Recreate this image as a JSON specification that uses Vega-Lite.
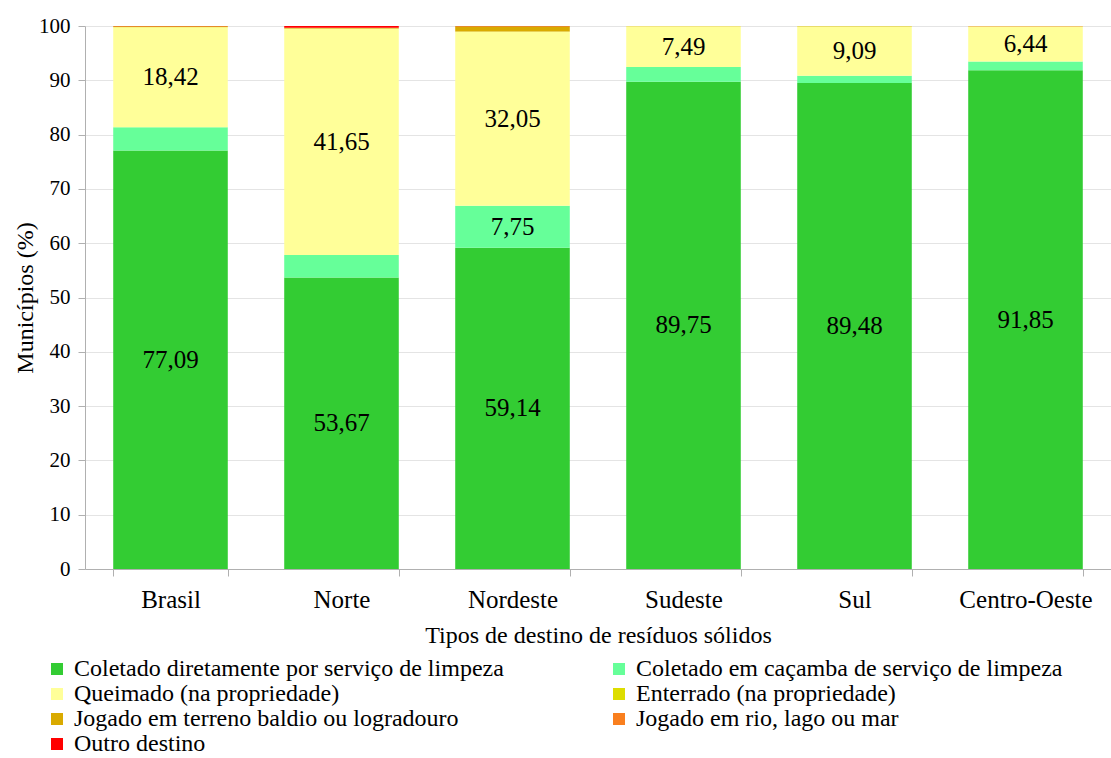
{
  "$schema": "https://vega.github.io/schema/vega-lite/v6.json",
  "width": 1026,
  "height": 543,
  "autosize": {"type": "none"},
  "padding": {"left": 85, "top": 26, "right": 0, "bottom": 189},
  "background": "white",
  "config": {
    "font": "Liberation Serif",
    "axis": {"labelFont": "Liberation Serif", "titleFont": "Liberation Serif"},
    "legend": {"labelFont": "Liberation Serif", "titleFont": "Liberation Serif"},
    "text": {"font": "Liberation Serif"},
    "view": {"stroke": null},
    "locale": {"number": {"decimal": ",", "thousands": ".", "grouping": [3], "currency": ["R$", ""]}}
  },
  "data": {
    "values": [
      {"regiao": "Brasil", "destino": "Coletado diretamente por serviço de limpeza", "k": 1, "valor": 77.09},
      {"regiao": "Brasil", "destino": "Coletado em caçamba de serviço de limpeza", "k": 2, "valor": 4.25},
      {"regiao": "Brasil", "destino": "Queimado (na propriedade)", "k": 3, "valor": 18.42},
      {"regiao": "Brasil", "destino": "Enterrado (na propriedade)", "k": 4, "valor": 0.05},
      {"regiao": "Brasil", "destino": "Jogado em terreno baldio ou logradouro", "k": 5, "valor": 0.14},
      {"regiao": "Brasil", "destino": "Jogado em rio, lago ou mar", "k": 6, "valor": 0.02},
      {"regiao": "Brasil", "destino": "Outro destino", "k": 7, "valor": 0.03},
      {"regiao": "Norte", "destino": "Coletado diretamente por serviço de limpeza", "k": 1, "valor": 53.67},
      {"regiao": "Norte", "destino": "Coletado em caçamba de serviço de limpeza", "k": 2, "valor": 4.17},
      {"regiao": "Norte", "destino": "Queimado (na propriedade)", "k": 3, "valor": 41.65},
      {"regiao": "Norte", "destino": "Enterrado (na propriedade)", "k": 4, "valor": 0.04},
      {"regiao": "Norte", "destino": "Jogado em terreno baldio ou logradouro", "k": 5, "valor": 0.12},
      {"regiao": "Norte", "destino": "Jogado em rio, lago ou mar", "k": 6, "valor": 0.05},
      {"regiao": "Norte", "destino": "Outro destino", "k": 7, "valor": 0.3},
      {"regiao": "Nordeste", "destino": "Coletado diretamente por serviço de limpeza", "k": 1, "valor": 59.14},
      {"regiao": "Nordeste", "destino": "Coletado em caçamba de serviço de limpeza", "k": 2, "valor": 7.75},
      {"regiao": "Nordeste", "destino": "Queimado (na propriedade)", "k": 3, "valor": 32.05},
      {"regiao": "Nordeste", "destino": "Enterrado (na propriedade)", "k": 4, "valor": 0.05},
      {"regiao": "Nordeste", "destino": "Jogado em terreno baldio ou logradouro", "k": 5, "valor": 0.95},
      {"regiao": "Nordeste", "destino": "Jogado em rio, lago ou mar", "k": 6, "valor": 0.03},
      {"regiao": "Nordeste", "destino": "Outro destino", "k": 7, "valor": 0.03},
      {"regiao": "Sudeste", "destino": "Coletado diretamente por serviço de limpeza", "k": 1, "valor": 89.75},
      {"regiao": "Sudeste", "destino": "Coletado em caçamba de serviço de limpeza", "k": 2, "valor": 2.7},
      {"regiao": "Sudeste", "destino": "Queimado (na propriedade)", "k": 3, "valor": 7.49},
      {"regiao": "Sudeste", "destino": "Enterrado (na propriedade)", "k": 4, "valor": 0.01},
      {"regiao": "Sudeste", "destino": "Jogado em terreno baldio ou logradouro", "k": 5, "valor": 0.03},
      {"regiao": "Sudeste", "destino": "Jogado em rio, lago ou mar", "k": 6, "valor": 0.01},
      {"regiao": "Sudeste", "destino": "Outro destino", "k": 7, "valor": 0.01},
      {"regiao": "Sul", "destino": "Coletado diretamente por serviço de limpeza", "k": 1, "valor": 89.48},
      {"regiao": "Sul", "destino": "Coletado em caçamba de serviço de limpeza", "k": 2, "valor": 1.35},
      {"regiao": "Sul", "destino": "Queimado (na propriedade)", "k": 3, "valor": 9.09},
      {"regiao": "Sul", "destino": "Enterrado (na propriedade)", "k": 4, "valor": 0.02},
      {"regiao": "Sul", "destino": "Jogado em terreno baldio ou logradouro", "k": 5, "valor": 0.04},
      {"regiao": "Sul", "destino": "Jogado em rio, lago ou mar", "k": 6, "valor": 0.01},
      {"regiao": "Sul", "destino": "Outro destino", "k": 7, "valor": 0.01},
      {"regiao": "Centro-Oeste", "destino": "Coletado diretamente por serviço de limpeza", "k": 1, "valor": 91.85},
      {"regiao": "Centro-Oeste", "destino": "Coletado em caçamba de serviço de limpeza", "k": 2, "valor": 1.62},
      {"regiao": "Centro-Oeste", "destino": "Queimado (na propriedade)", "k": 3, "valor": 6.44},
      {"regiao": "Centro-Oeste", "destino": "Enterrado (na propriedade)", "k": 4, "valor": 0.02},
      {"regiao": "Centro-Oeste", "destino": "Jogado em terreno baldio ou logradouro", "k": 5, "valor": 0.04},
      {"regiao": "Centro-Oeste", "destino": "Jogado em rio, lago ou mar", "k": 6, "valor": 0.01},
      {"regiao": "Centro-Oeste", "destino": "Outro destino", "k": 7, "valor": 0.02}
    ]
  },
  "encoding": {
    "x": {
      "field": "regiao",
      "type": "nominal",
      "sort": ["Brasil", "Norte", "Nordeste", "Sudeste", "Sul", "Centro-Oeste"],
      "scale": {"paddingInner": 0.33, "paddingOuter": 0.165},
      "axis": {
        "title": "Tipos de destino de resíduos sólidos",
        "titleFontSize": 24,
        "titleFontWeight": "normal",
        "titleColor": "black",
        "titlePadding": 11,
        "labelAngle": 0,
        "labelFontSize": 25,
        "labelColor": "black",
        "labelPadding": 11,
        "tickBand": "extent",
        "tickSize": 7,
        "tickColor": "#b0b0b0",
        "domainColor": "#b0b0b0",
        "grid": false
      }
    },
    "order": {"field": "k", "type": "quantitative"}
  },
  "layer": [
    {
      "mark": {"type": "bar"},
      "encoding": {
        "y": {
          "field": "valor",
          "type": "quantitative",
          "stack": "zero",
          "scale": {"domain": [0, 100], "nice": false},
          "axis": {
            "title": "Municípios (%)",
            "titleFontSize": 24,
            "titleFontWeight": "normal",
            "titleColor": "black",
            "titlePadding": 1,
            "values": [0, 10, 20, 30, 40, 50, 60, 70, 80, 90, 100],
            "labelFontSize": 21,
            "labelColor": "black",
            "labelPadding": 8,
            "tickSize": 7,
            "tickColor": "#b0b0b0",
            "domainColor": "#b0b0b0",
            "gridColor": "#e4e4e4"
          }
        },
        "color": {
          "field": "destino",
          "type": "nominal",
          "scale": {
            "domain": [
              "Coletado diretamente por serviço de limpeza",
              "Coletado em caçamba de serviço de limpeza",
              "Queimado (na propriedade)",
              "Enterrado (na propriedade)",
              "Jogado em terreno baldio ou logradouro",
              "Jogado em rio, lago ou mar",
              "Outro destino"
            ],
            "range": ["#33CC33", "#66FF99", "#FFFF99", "#DDDD00", "#D9AA00", "#F97F1E", "#FF0000"]
          },
          "legend": {
            "title": null,
            "orient": "none",
            "direction": "horizontal",
            "legendX": -40,
            "legendY": 631,
            "columns": 2,
            "columnPadding": 103,
            "rowPadding": 1,
            "padding": 0,
            "symbolType": "square",
            "symbolSize": 144,
            "symbolStrokeWidth": 0,
            "labelFontSize": 24,
            "labelColor": "black",
            "labelOffset": 5,
            "labelLimit": 600
          }
        }
      }
    },
    {
      "mark": {"type": "text", "fontSize": 25, "color": "black", "baseline": "middle"},
      "encoding": {
        "y": {"field": "valor", "type": "quantitative", "stack": "zero", "bandPosition": 0.5},
        "detail": {"field": "destino", "type": "nominal"},
        "text": {
          "condition": {"test": "datum.valor > 5", "field": "valor", "type": "quantitative", "format": ".2f"},
          "value": ""
        }
      }
    }
  ]
}
